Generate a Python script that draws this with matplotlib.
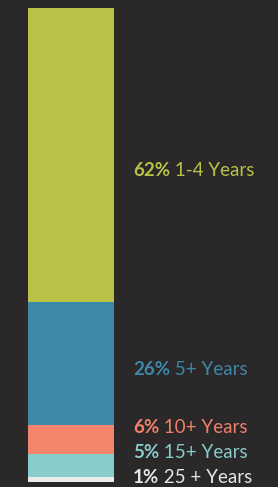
import matplotlib
matplotlib.use("Agg")
import matplotlib.pyplot as plt

# data
pct = [1, 5, 6, 26, 62]
labels = ["25 + Years", "15+ Years", "10+ Years", "5+ Years", "1-4 Years"]
colors = ["#ebebeb", "#88cccb", "#f4846c", "#3e88a8", "#b9c246"]
text_colors = ["#e6e6e6", "#88cccb", "#f0806a", "#3e88a8", "#b9c246"]
# label baselines (y in percent units), nudged so small ones don't overlap
label_y = [-0.15, 5.0, 10.4, 22.6, 64.6]

bg = "#2a2829"
fig = plt.figure(figsize=(2.78, 4.87), dpi=100)
fig.patch.set_facecolor(bg)
ax = fig.add_axes([0, 0, 1, 1])
ax.set_facecolor(bg)

bottom = 0
for v, c in zip(pct, colors):
    ax.bar(0, v, width=1, bottom=bottom, color=c, align="edge", linewidth=0)
    bottom += v

ax.set_xlim(-28 / 86, 250 / 86)
ax.set_ylim(-5 / 4.74, 100 + 8 / 4.74)
ax.axis("off")

tx = 105 / 86
for v, lab, tc, ly in zip(pct, labels, text_colors, label_y):
    t = ax.text(tx, ly, f"{v}%", color=tc, fontsize=13.5, fontweight="bold",
                family="Lato", va="baseline", ha="left")
    ax.annotate(" " + lab, xy=(1, 0), xycoords=t, xytext=(0, 0),
                textcoords="offset points", color=tc, fontsize=13.5,
                family="Lato", va="bottom", ha="left")

fig.savefig("out.png", dpi=100, facecolor=bg)
